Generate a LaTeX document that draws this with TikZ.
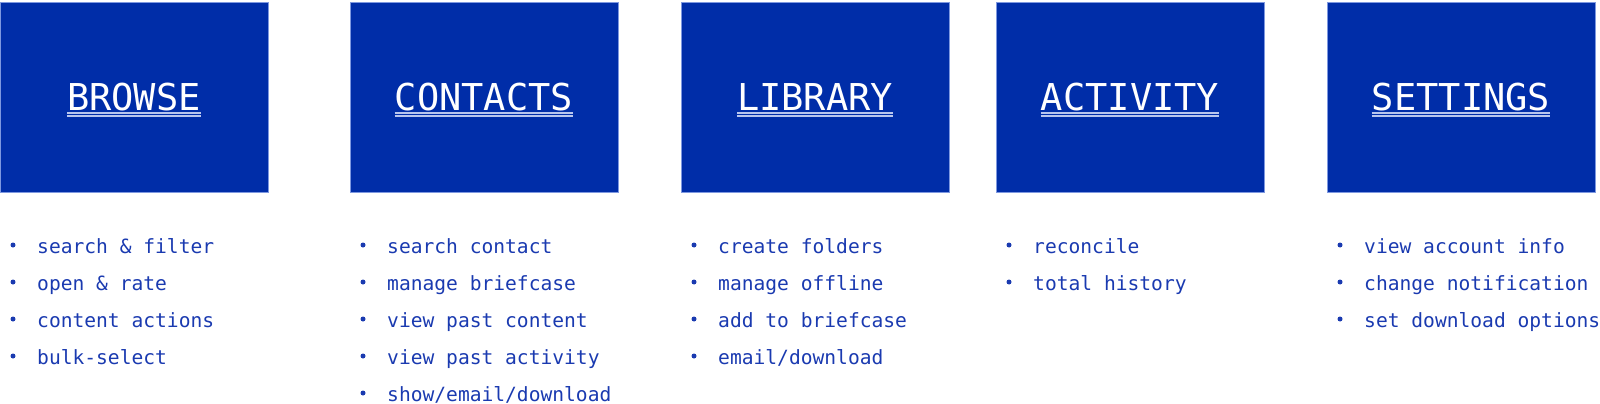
\documentclass[tikz,border=0pt]{standalone}
\usepackage{fontspec}
\newfontfamily\monofont{DejaVu Sans Mono}
\definecolor{boxblue}{HTML}{002DA8}
\definecolor{boxedge}{HTML}{7E98E0}
\definecolor{itemblue}{HTML}{1A3AB0}
\definecolor{ulcol}{HTML}{B8C6EE}
\tikzset{
  menubox/.style={draw=boxedge, line width=0.8pt, fill=boxblue, minimum width=268pt, minimum height=190pt, inner sep=0pt, anchor=north west},
  menutitle/.style={text=white, inner sep=0pt, anchor=base, font=\monofont\fontsize{37}{40}\selectfont},
  ulline/.style={draw=ulcol, line width=1.2pt},
  itemtext/.style={text=itemblue, inner sep=0pt, anchor=base west, font=\monofont\fontsize{19.6}{22}\selectfont},
  bulletdot/.style={fill=itemblue, draw=none, circle, inner sep=0pt, minimum size=5pt},
}
\begin{document}
\begin{tikzpicture}[x=1pt,y=-1pt]
\useasboundingbox (0,0) rectangle (1600,404);
\foreach \n/\xl/\t in {b/0/BROWSE, c/350/CONTACTS, l/681/LIBRARY, a/996/ACTIVITY, s/1327/SETTINGS}{
  \node[menubox] (box\n) at (\xl,2) {};
  \node[menutitle] (title\n) at (\xl+134,110) {\t};
  \draw[ulline] ([yshift=-3pt]title\n.base west) -- ([yshift=-3pt]title\n.base east);
  \draw[ulline] ([yshift=-6pt]title\n.base west) -- ([yshift=-6pt]title\n.base east);
}
% items
\foreach \n/\xl/\items in {
  b/0/{search \& filter,open \& rate,content actions,bulk-select},
  c/350/{search contact,manage briefcase,view past content,view past activity,show/email/download},
  l/681/{create folders,manage offline,add to briefcase,email/download},
  a/996/{reconcile,total history},
  s/1327/{view account info,change notification,set download options}}{
  \foreach \it [count=\i] in \items {
    \pgfmathsetmacro{\yb}{253+37*(\i-1)}
    \node[bulletdot] (dot\n\i) at (\xl+13,\yb-8) {};
    \node[itemtext] (item\n\i) at (\xl+37,\yb) {\it};
  }
}
\end{tikzpicture}
\end{document}
